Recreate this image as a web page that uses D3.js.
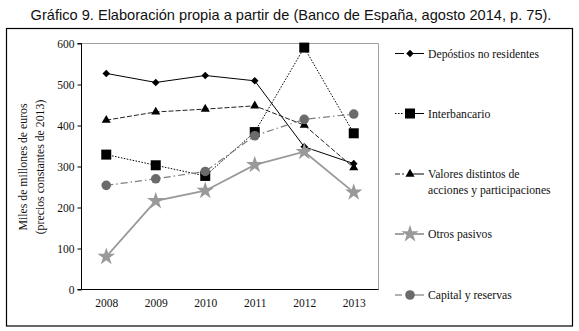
<!DOCTYPE html>
<html><head><meta charset="utf-8">
<script src="https://cdn.jsdelivr.net/npm/d3@7"></script>
<style>body{margin:0;background:#fff;} svg{display:block;}</style>
</head><body>
<script>
const years = ["2008","2009","2010","2011","2012","2013"];
const depositos = [527, 505, 522, 509, 348, 307];
const interbancario = [329, 303, 277, 384, 590, 381];
const valores = [413, 433, 440, 448, 401, 297];
const otros = [80, 216, 241, 304, 336, 237];
const capital = [254, 270, 288, 375, 415, 428];
const yTicks = [0, 100, 200, 300, 400, 500, 600];
const seriesNames = ["Depóstios no residentes", "Interbancario", "Valores distintos de|acciones y participaciones", "Otros pasivos", "Capital y reservas"];
const titleText = "Gráfico 9. Elaboración propia a partir de (Banco de España, agosto 2014, p. 75).";
const yTitle = ["Miles de millones de euros", "(precios constantes de 2013)"];

const W = 579, H = 331;
const svg = d3.select("body").append("svg").attr("width", W).attr("height", H);
const serif = "'Liberation Serif','Times New Roman',serif";

svg.append("text").attr("x", 291).attr("y", 20).attr("text-anchor", "middle")
  .attr("font-family", "'Liberation Sans',Arial,sans-serif").attr("font-size", 14.6)
  .attr("fill", "#111").text(titleText);

svg.append("rect").attr("x", 6.5).attr("y", 28.5).attr("width", 566).attr("height", 297.5)
  .attr("fill", "none").attr("stroke", "#000").attr("stroke-width", 1.2);

const L = 81.5, R = 378.5, T = 43.5, B = 289.5;
const x = d3.scalePoint().domain(years).range([L, R]).padding(0.5);
const y = d3.scaleLinear().domain([0, 600]).range([B, T]);

svg.append("path").attr("d", `M${L},${T}H${R}V${B}`).attr("fill", "none").attr("stroke", "#a0a0a0").attr("stroke-width", 1);

const yAxis = svg.append("g").attr("transform", `translate(${L},0)`)
  .call(d3.axisLeft(y).tickValues(yTicks).tickSize(4).tickPadding(3).tickFormat(d3.format("d")));
yAxis.select(".domain").attr("stroke", "#000").attr("d", `M-4,${T}H0V${B}H-4`);
yAxis.selectAll("text").attr("font-family", serif).attr("font-size", 11.5).attr("fill", "#111");

const xAxis = svg.append("g").attr("transform", `translate(0,${B})`)
  .call(d3.axisBottom(x).tickSize(0).tickPadding(9));
xAxis.select(".domain").attr("stroke", "#000").attr("d", `M${L},0H${R}`);
xAxis.selectAll("text").attr("font-family", serif).attr("font-size", 11.5).attr("fill", "#111");

const yt = svg.append("g").attr("font-family", serif).attr("font-size", 11.8).attr("fill", "#111");
yTitle.forEach((t, i) => {
  yt.append("text").attr("transform", `translate(${23 + i * 17},167) rotate(-90)`)
    .attr("text-anchor", "middle").attr("dominant-baseline", "central").text(t);
});

const diamond = { draw(ctx, size) { const r = Math.sqrt(size) / 2 * 1.2; ctx.moveTo(0, -r); ctx.lineTo(r, 0); ctx.lineTo(0, r); ctx.lineTo(-r, 0); ctx.closePath(); } };

const series = [
  { vals: depositos, stroke: "#000", width: 1, dash: null, sym: diamond, size: 40, fill: "#000" },
  { vals: interbancario, stroke: "#000", width: 1, dash: "1.5,1.5", sym: d3.symbolSquare, size: 100, fill: "#000" },
  { vals: valores, stroke: "#222", width: 1, dash: "5,2", sym: d3.symbolTriangle, size: 36, fill: "#000" },
  { vals: otros, stroke: "#999", width: 1.8, dash: null, sym: d3.symbolStar, size: 95, fill: "#999" },
  { vals: capital, stroke: "#7f7f7f", width: 1.2, dash: "7,3,1.5,3", sym: d3.symbolCircle, size: 72, fill: "#6b6b6b" }
];

const line = d3.line().x((d, i) => x(years[i])).y(d => y(d));
series.forEach(s => {
  const g = svg.append("g");
  g.append("path").attr("d", line(s.vals)).attr("fill", "none").attr("stroke", s.stroke)
    .attr("stroke-width", s.width).attr("stroke-dasharray", s.dash);
  g.selectAll("path.m").data(s.vals).join("path").attr("class", "m")
    .attr("transform", (d, i) => `translate(${x(years[i])},${y(d)})`)
    .attr("d", d3.symbol(s.sym, s.size)).attr("fill", s.fill);
});

const legY = [53.5, 113.5, 174, 234, 295];
series.forEach((s, i) => {
  const g = svg.append("g").attr("transform", `translate(0,${legY[i]})`);
  g.append("path").attr("d", "M395,0H404").attr("stroke", s.stroke).attr("stroke-width", s.width)
    .attr("stroke-dasharray", s.dash).attr("fill", "none");
  g.append("path").attr("d", "M410,0H424").attr("stroke", s.stroke === "#000" || s.stroke === "#222" ? "#000" : s.stroke)
    .attr("stroke-width", s.width).attr("fill", "none");
  g.append("path").attr("transform", "translate(410,0)").attr("d", d3.symbol(s.sym, s.size)).attr("fill", s.fill);
  const lines = seriesNames[i].split("|");
  const t = g.append("text").attr("x", 428).attr("y", 4).attr("font-family", serif)
    .attr("font-size", 11.7).attr("fill", "#111");
  lines.forEach((ln, j) => t.append("tspan").attr("x", 428).attr("dy", j ? 16 : 0).text(ln));
});
</script>
</body></html>
